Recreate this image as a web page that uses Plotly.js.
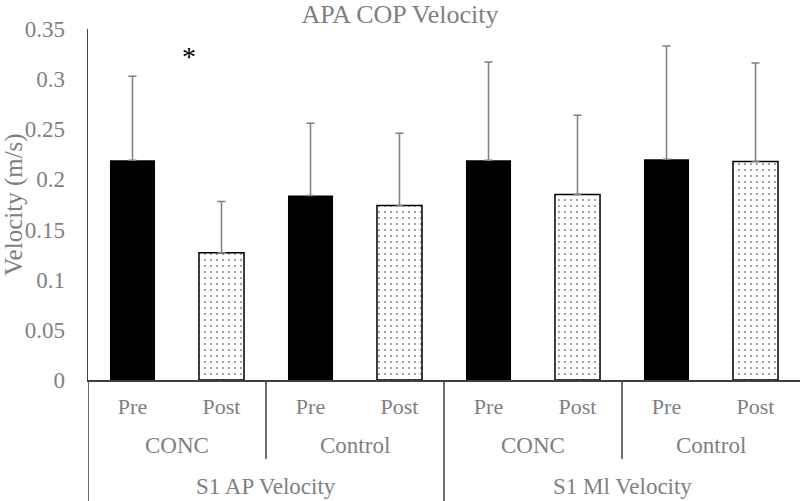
<!DOCTYPE html>
<html>
<head>
<meta charset="utf-8">
<script src="https://cdn.plot.ly/plotly-3.0.1.min.js"></script>
<style>html,body{margin:0;padding:0;background:#fff;}#chart{width:800px;height:501px;}</style>
</head>
<body>
<div id="chart"></div>
<script>
// ---- data ----
const phases   = ['Pre', 'Post', 'Pre', 'Post', 'Pre', 'Post', 'Pre', 'Post'];
const groups   = ['CONC', 'CONC', 'Control', 'Control', 'CONC', 'CONC', 'Control', 'Control'];
const measures = ['S1 AP Velocity', 'S1 AP Velocity', 'S1 AP Velocity', 'S1 AP Velocity',
                  'S1 Ml Velocity', 'S1 Ml Velocity', 'S1 Ml Velocity', 'S1 Ml Velocity'];
const velocity = [0.219, 0.127, 0.184, 0.174, 0.219, 0.185, 0.220, 0.218];
const velocitySD = [0.084, 0.051, 0.072, 0.072, 0.098, 0.079, 0.113, 0.098];
const yTicks = [0, 0.05, 0.1, 0.15, 0.2, 0.25, 0.3, 0.35];
const sigMark = {text: '*', index: 1, offset: -0.36, value: 0.323};

// ---- build ----
const FONT = '"Liberation Serif", "Times New Roman", serif';
const GRAY = '#7f7f7f';
const LINE = '#404040';
const idx = phases.map((_, i) => i);

function phaseTrace(phase) {
  const sel = idx.filter(i => phases[i] === phase);
  const dotted = phase === 'Post';
  return {
    type: 'bar',
    name: phase,
    x: sel,
    y: sel.map(i => velocity[i]),
    width: 0.506,
    marker: dotted ? {
      color: '#ffffff',
      line: {color: '#000000', width: 1.5},
      pattern: {shape: '.', fgcolor: '#000000', bgcolor: '#ffffff', size: 6, solidity: 0.08, fillmode: 'overlay'}
    } : {
      color: '#000000',
      line: {color: '#000000', width: 0}
    },
    error_y: {
      type: 'data', symmetric: false,
      array: sel.map(i => velocitySD[i]), arrayminus: sel.map(() => 0),
      color: GRAY, thickness: 1.5, width: 4
    },
    hoverinfo: 'skip',
    showlegend: false
  };
}

// spans of consecutive equal labels
function spans(labels) {
  const out = [];
  labels.forEach((l, i) => {
    if (out.length && out[out.length - 1].label === l && out[out.length - 1].end === i - 1) {
      out[out.length - 1].end = i;
    } else out.push({label: l, start: i, end: i});
  });
  return out;
}
const groupSpans = spans(groups.map((g, i) => measures[i] + '|' + g)).map(s => ({...s, label: s.label.split('|')[1]}));
const measureSpans = spans(measures);

const yGroup = -0.188, yMeasure = -0.302;
const yGroupLine = -0.225, yBottom = -0.345;

const annotations = [];
groupSpans.forEach(s => annotations.push({
  x: (s.start + s.end) / 2, xref: 'x', y: yGroup, yref: 'paper',
  text: s.label, showarrow: false, xanchor: 'center', yanchor: 'middle',
  font: {family: FONT, size: 23, color: GRAY}
}));
measureSpans.forEach(s => annotations.push({
  x: (s.start + s.end) / 2, xref: 'x', y: yMeasure, yref: 'paper',
  text: s.label, showarrow: false, xanchor: 'center', yanchor: 'middle',
  font: {family: FONT, size: 23, color: GRAY}
}));
annotations.push({
  x: sigMark.index + sigMark.offset, xref: 'x', y: sigMark.value, yref: 'y',
  text: sigMark.text, showarrow: false, xanchor: 'center', yanchor: 'middle',
  font: {family: FONT, size: 28, color: '#000000'}
});

const shapes = [];
shapes.push({type: 'line', xref: 'x', yref: 'paper', x0: -0.5, x1: -0.5, y0: 0, y1: yBottom,
  line: {color: LINE, width: 1.5}});
groupSpans.slice(1).forEach(s => {
  const isMeasureBoundary = measureSpans.some(m => m.start === s.start);
  shapes.push({type: 'line', xref: 'x', yref: 'paper', x0: s.start - 0.5, x1: s.start - 0.5,
    y0: 0, y1: isMeasureBoundary ? yBottom : yGroupLine,
    line: {color: LINE, width: 1.5}});
});

const layout = {
  width: 800, height: 501,
  margin: {l: 88, r: 0, t: 29, b: 121},
  paper_bgcolor: '#ffffff', plot_bgcolor: '#ffffff',
  font: {family: FONT, color: GRAY},
  barmode: 'overlay',
  title: {
    text: 'APA COP Velocity', x: 0.5, xref: 'container', xanchor: 'center',
    y: 0.972, yref: 'container', yanchor: 'middle',
    font: {family: FONT, size: 26, color: GRAY}
  },
  xaxis: {
    range: [-0.5, 7.5], tickvals: idx, ticktext: phases,
    showline: true, linecolor: LINE, linewidth: 1.5, showgrid: false, zeroline: false,
    ticks: '', ticklabelstandoff: 6,
    tickfont: {family: FONT, size: 22, color: GRAY}, fixedrange: true
  },
  yaxis: {
    range: [0, 0.35], tickvals: yTicks, ticktext: yTicks.map(v => String(v)),
    showline: true, linecolor: LINE, linewidth: 1.5, showgrid: false, zeroline: false,
    ticks: '', ticklabelstandoff: 17,
    tickfont: {family: FONT, size: 23, color: GRAY},
    title: {text: 'Velocity (m/s)', standoff: 6, font: {family: FONT, size: 25, color: GRAY}},
    fixedrange: true
  },
  annotations: annotations,
  shapes: shapes
};

Plotly.newPlot('chart', [phaseTrace('Pre'), phaseTrace('Post')], layout, {displayModeBar: false, staticPlot: true});
</script>
</body>
</html>
